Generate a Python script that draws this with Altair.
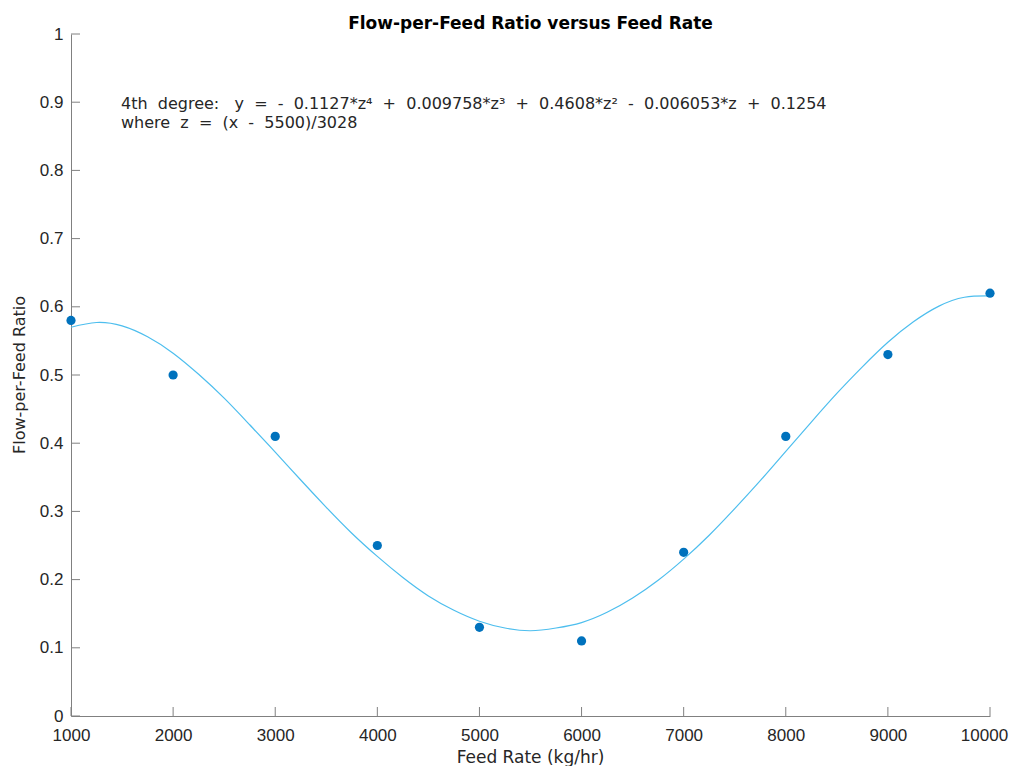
import altair as alt
import pandas as pd

# measured points
feed_rate = [1000, 2000, 3000, 4000, 5000, 6000, 7000, 8000, 9000, 10000]
ratio = [0.58, 0.50, 0.41, 0.25, 0.13, 0.11, 0.24, 0.41, 0.53, 0.62]

# fitted curve
curve_x = [1000, 1250, 1500, 1750, 2000, 2250, 2500, 2750, 3000, 3250, 3500, 3750,
           4000, 4250, 4500, 4750, 5000, 5250, 5500, 5750, 6000, 6250, 6500, 6750,
           7000, 7250, 7500, 7750, 8000, 8250, 8500, 8750, 9000, 9250, 9500, 9750, 10000]
curve_y = [0.570, 0.577, 0.572, 0.556, 0.532, 0.501, 0.466, 0.427, 0.387, 0.346, 0.306, 0.268,
           0.234, 0.203, 0.176, 0.155, 0.139, 0.129, 0.125, 0.129, 0.137, 0.152, 0.173, 0.199,
           0.230, 0.265, 0.304, 0.345, 0.388, 0.431, 0.473, 0.512, 0.548, 0.578, 0.601, 0.614, 0.616]

x_ticks = [1000, 2000, 3000, 4000, 5000, 6000, 7000, 8000, 9000, 10000]
y_ticks = [0, 0.1, 0.2, 0.3, 0.4, 0.5, 0.6, 0.7, 0.8, 0.9, 1]

title_text = "Flow-per-Feed Ratio versus Feed Rate"
x_title = "Feed Rate (kg/hr)"
y_title = "Flow-per-Feed Ratio"

NB = "\u00a0"
line1 = ("4th" + NB * 2 + "degree:" + NB * 3 + "y" + NB * 2 + "=" + NB * 2 + "-" + NB * 2 +
         "0.1127*z\u2074" + NB * 2 + "+" + NB * 2 + "0.009758*z\u00b3" + NB * 2 + "+" + NB * 2 +
         "0.4608*z\u00b2" + NB * 2 + "-" + NB * 2 + "0.006053*z" + NB * 2 + "+" + NB * 2 + "0.1254")
line2 = "where" + NB * 2 + "z" + NB * 2 + "=" + NB * 2 + "(x" + NB * 2 + "-" + NB * 2 + "5500)/3028"

FONT = "Liberation Sans"
WIDE = "DejaVu Sans"
W, H = 919, 682

pts = pd.DataFrame({"x": feed_rate, "y": ratio})
crv = pd.DataFrame({"x": curve_x, "y": curve_y})
xt = pd.DataFrame({"v": x_ticks})
yt = pd.DataFrame({"v": y_ticks})

xscale = alt.Scale(domain=[1000, 10000], nice=False, zero=False)
yscale = alt.Scale(domain=[0, 1], nice=False)

xaxis = alt.Axis(values=x_ticks, format="d", title=None, ticks=False,
                 grid=False, labelFlush=False, labelPadding=11,
                 labelOffset={"condition": {"test": "datum.value == 10000", "value": -6}, "value": 0})
yaxis = alt.Axis(values=y_ticks, title=None, ticks=False, grid=False,
                 labelFlush=False, labelPadding=8, labelExpr="format(datum.value, '~g')")

base_curve = alt.Chart(crv).mark_line(color="#4DBEEE", strokeWidth=1.2, interpolate="natural").encode(
    x=alt.X("x:Q", scale=xscale, axis=xaxis),
    y=alt.Y("y:Q", scale=yscale, axis=yaxis),
)

points = alt.Chart(pts).mark_circle(color="#0072BD", opacity=1, size=85).encode(
    x=alt.X("x:Q", scale=xscale),
    y=alt.Y("y:Q", scale=yscale),
)

xticks = alt.Chart(xt).mark_rule(color="#808080", strokeWidth=1).encode(
    x=alt.X("v:Q", scale=xscale),
    y=alt.value(H),
    y2=alt.value(H - 9),
)
yticks = alt.Chart(yt).mark_rule(color="#808080", strokeWidth=1).encode(
    y=alt.Y("v:Q", scale=yscale),
    x=alt.value(0),
    x2=alt.value(9),
)


def label(text, x, y, size, font=WIDE, weight="normal", align="left", angle=0, color="#262626"):
    kw = dict(align=align, baseline="alphabetic", font=font, fontSize=size,
              fontWeight=weight, color=color)
    if angle:
        kw["angle"] = angle
    return alt.Chart(pd.DataFrame({"t": [text]})).mark_text(**kw).encode(
        x=alt.value(x), y=alt.value(y), text="t:N")


txt1 = label(line1, 50, 75, 16)
txt2 = label(line2, 50, 94, 16)
ttl = label(title_text, W / 2, -5, 17, weight="bold", align="center", color="#000000")
xttl = label(x_title, W / 2, 729, 17, align="center")
yttl = label(y_title, -46, H / 2, 16, align="center", angle=270)

chart = alt.layer(base_curve, points, xticks, yticks, txt1, txt2, ttl, xttl, yttl).properties(
    width=W, height=H,
    autosize=alt.AutoSizeParams(type="none"),
    padding={"left": 63, "top": 26, "right": 19, "bottom": 50},
).configure_view(stroke=None).configure_axis(
    domainColor="#808080", domainWidth=1, labelFont=FONT, labelFontSize=17, labelColor="#262626",
)

chart.save("out.html", embed_options={"renderer": "svg", "actions": False})
